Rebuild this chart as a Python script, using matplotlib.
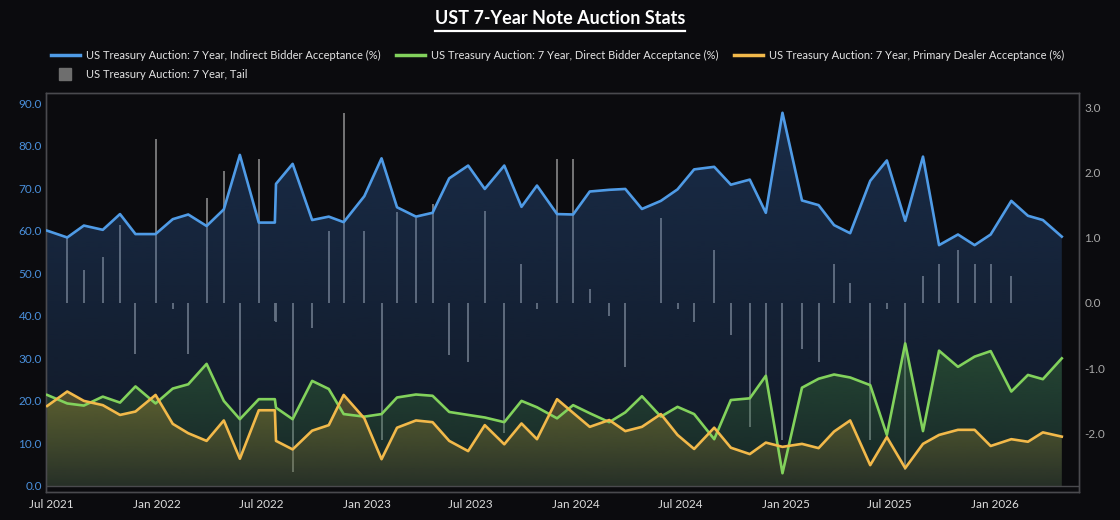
import matplotlib
matplotlib.use("Agg")
import matplotlib.pyplot as plt
import matplotlib.dates as mdates
from matplotlib.lines import Line2D
from matplotlib.colors import to_rgb
import numpy as np
import pandas as pd

# ---------------- data ----------------
auction_dates = [
    "2021-06-23", "2021-07-28", "2021-08-26", "2021-09-28", "2021-10-28", "2021-11-24",
    "2021-12-29", "2022-01-28", "2022-02-24", "2022-03-28", "2022-04-27", "2022-05-25",
    "2022-06-27", "2022-07-25", "2022-07-27", "2022-08-25", "2022-09-28", "2022-10-27",
    "2022-11-22", "2022-12-28", "2023-01-27", "2023-02-23", "2023-03-28", "2023-04-26",
    "2023-05-25", "2023-06-27", "2023-07-26", "2023-08-29", "2023-09-28", "2023-10-25",
    "2023-11-29", "2023-12-27", "2024-01-25", "2024-02-28", "2024-03-27", "2024-04-25",
    "2024-05-28", "2024-06-26", "2024-07-25", "2024-08-29", "2024-09-27", "2024-10-30",
    "2024-11-27", "2024-12-26", "2025-01-29", "2025-02-27", "2025-03-26", "2025-04-23",
    "2025-05-28", "2025-06-26", "2025-07-28", "2025-08-28", "2025-09-25", "2025-10-28",
    "2025-11-26", "2025-12-24", "2026-01-29", "2026-02-27", "2026-03-25", "2026-04-27",
]
indirect = [
    60.0, 58.4, 61.2, 60.2, 63.9, 59.2, 59.2, 62.7, 63.8, 61.1, 65.0, 77.8,
    61.9, 61.9, 71.0, 75.7, 62.5, 63.3, 62.0, 68.1, 77.0, 65.5, 63.3, 64.2,
    72.3, 75.3, 69.8, 75.3, 65.6, 70.6, 63.9, 63.8, 69.2, 69.6, 69.8, 65.1,
    67.0, 69.7, 74.4, 75.0, 70.8, 72.0, 64.2, 87.7, 67.1, 66.0, 61.3, 59.4,
    71.7, 76.5, 62.3, 77.4, 56.6, 59.1, 56.6, 59.1, 67.0, 63.5, 62.5, 58.6,
]
direct = [
    21.4, 19.4, 18.9, 21.0, 19.6, 23.4, 19.4, 22.9, 23.9, 28.7, 20.0, 15.7,
    20.4, 20.4, 18.4, 15.7, 24.7, 22.8, 16.9, 16.3, 16.9, 20.8, 21.5, 21.2,
    17.4, 16.7, 16.1, 15.0, 20.0, 18.5, 15.9, 19.0, 17.1, 15.0, 17.3, 21.1,
    16.3, 18.6, 16.9, 11.0, 20.2, 20.6, 25.9, 3.0, 23.1, 25.2, 26.2, 25.5,
    23.7, 12.0, 33.5, 12.9, 31.8, 28.0, 30.4, 31.7, 22.2, 26.1, 25.1, 30.0,
]
dealer = [
    18.8, 22.2, 20.0, 19.0, 16.7, 17.5, 21.4, 14.6, 12.4, 10.6, 15.4, 6.4,
    17.8, 17.8, 10.6, 8.6, 13.0, 14.3, 21.4, 15.9, 6.3, 13.7, 15.4, 15.0,
    10.6, 8.2, 14.3, 9.8, 14.7, 11.0, 20.4, 17.2, 13.9, 15.5, 12.9, 13.9,
    16.9, 12.0, 8.7, 13.7, 9.0, 7.5, 10.2, 9.2, 9.9, 8.9, 12.8, 15.4,
    4.9, 11.5, 4.2, 9.9, 12.0, 13.2, 13.2, 9.4, 11.0, 10.4, 12.6, 11.6,
]
tail = [
    0.0, 1.0, 0.51, 0.71, 1.2, -0.79, 2.51, -0.09, -0.79, 1.61, 2.02, -2.4,
    2.21, -0.28, -0.30, -2.59, -0.39, 1.11, 2.91, 1.11, -2.1, 1.4, 1.31, 1.51,
    -0.8, -0.9, 1.41, -2.0, 0.6, -0.1, 2.21, 2.21, 0.21, -0.2, -0.99, 0.0,
    1.31, -0.1, -0.29, 0.81, -0.49, -1.9, -1.12, -2.1, -0.7, -0.9, 0.6, 0.31,
    -2.1, -0.09, -2.57, 0.41, 0.6, 0.81, 0.6, 0.6, 0.41, 0.0, 0.0, 0.0,
]
series_labels = [
    "US Treasury Auction: 7 Year, Indirect Bidder Acceptance (%)",
    "US Treasury Auction: 7 Year, Direct Bidder Acceptance (%)",
    "US Treasury Auction: 7 Year, Primary Dealer Acceptance (%)",
    "US Treasury Auction: 7 Year, Tail",
]
title_text = "UST 7-Year Note Auction Stats"

# ---------------- style ----------------
BG = "#0b0b0e"
BLUE = "#4f9be6"
GREEN = "#82d25c"
YELLOW = "#f2b94a"
BAR = "#7e7e7e"
SPINE = "#4a4a4e"
FONT = "Lato"

plt.rcParams["font.family"] = [FONT, "DejaVu Sans"]

dates = pd.to_datetime(auction_dates)
xnum = mdates.date2num(dates)

fig = plt.figure(figsize=(11.2, 5.2), dpi=100, facecolor=BG)
ax = fig.add_axes([46 / 1120, 1 - 492 / 520, (1079 - 46) / 1120, (492 - 93) / 520])
ax2 = ax.twinx()
ax.set_zorder(2)
ax2.set_zorder(1)
ax.patch.set_visible(False)
ax2.patch.set_facecolor(BG)

# tail bars on right axis (very thin columns from zero)
ax2.vlines(xnum, 0, tail, colors=BAR, linewidth=1.3, zorder=2)


def gradient_fill(axis, x, y, color, a_top, a_bot, z):
    poly = axis.fill_between(x, y, 0, facecolor="none", edgecolor="none", zorder=z)
    ymax = max(y)
    grad = np.zeros((200, 1, 4))
    grad[:, :, :3] = to_rgb(color)
    grad[:, 0, 3] = np.linspace(a_top, a_bot, 200)
    im = axis.imshow(grad, aspect="auto", extent=[x.min(), x.max(), 0, ymax],
                     origin="upper", zorder=z, interpolation="bilinear")
    im.set_clip_path(poly.get_paths()[0], transform=axis.transData)


gradient_fill(ax, xnum, indirect, "#2b5590", 0.45, 0.18, 1)
gradient_fill(ax, xnum, direct, "#3d7a34", 0.45, 0.12, 1.1)
gradient_fill(ax, xnum, dealer, "#8c7a2e", 0.55, 0.15, 1.2)

ax.plot(xnum, indirect, color=BLUE, lw=1.9, zorder=3)
ax.plot(xnum, direct, color=GREEN, lw=1.9, zorder=3)
ax.plot(xnum, dealer, color=YELLOW, lw=1.9, zorder=3)
ax.axhline(0, color=SPINE, lw=1.0, zorder=2)

x_left = mdates.date2num(pd.Timestamp("2021-06-21"))
x_right = mdates.date2num(pd.Timestamp("2026-05-27"))
ax.set_xlim(x_left, x_right)
ax.set_ylim(-1.41, 92.35)
ax2.set_ylim(-2.90, 3.22)
ax.set_yticks(np.arange(0, 91, 10))
ax.yaxis.set_major_formatter(plt.FormatStrFormatter("%.1f"))
ax2.set_yticks(np.arange(-2, 3.1, 1))
ax2.yaxis.set_major_formatter(plt.FormatStrFormatter("%.1f"))
ax.xaxis.set_major_locator(mdates.MonthLocator(bymonth=[1, 7]))
ax.xaxis.set_major_formatter(mdates.DateFormatter("%b %Y"))

ax.tick_params(axis="y", colors="#4a90dc", labelsize=8.5, length=0, pad=3)
ax.tick_params(axis="x", colors="#dcdcdc", labelsize=8.5, length=0, pad=5)
ax2.tick_params(axis="y", colors="#a8a8a8", labelsize=8.5, length=0, pad=4)
for a in (ax, ax2):
    for s in a.spines.values():
        s.set_color(SPINE)
        s.set_linewidth(1.0)

# legend
handles = [
    Line2D([], [], color=BLUE, lw=2.5),
    Line2D([], [], color="#6e6e6e", marker="s", markersize=8, linestyle="none"),
    Line2D([], [], color=GREEN, lw=2.5),
    Line2D([], [], color=YELLOW, lw=2.5),
]
labels = [series_labels[0], series_labels[3], series_labels[1], series_labels[2]]
fig.legend(handles, labels, ncol=3, loc="upper left", bbox_to_anchor=(51 / 1120, 1 - 50 / 520),
           frameon=False, fontsize=8, labelcolor="#e4e4e4", handlelength=2.6,
           handletextpad=0.55, columnspacing=1.4, borderpad=0, borderaxespad=0,
           labelspacing=0.7)

# title with underline
t = fig.text(0.5, 1 - 18 / 520, title_text, ha="center", va="center", fontsize=13,
             fontweight="bold", color="white")
fig.canvas.draw()
bb = t.get_window_extent().transformed(fig.transFigure.inverted())
fig.add_artist(Line2D([bb.x0, bb.x1], [1 - 31 / 520, 1 - 31 / 520], color="white",
                      lw=1.6, transform=fig.transFigure))

fig.savefig("out.png", dpi=100, facecolor=BG)
